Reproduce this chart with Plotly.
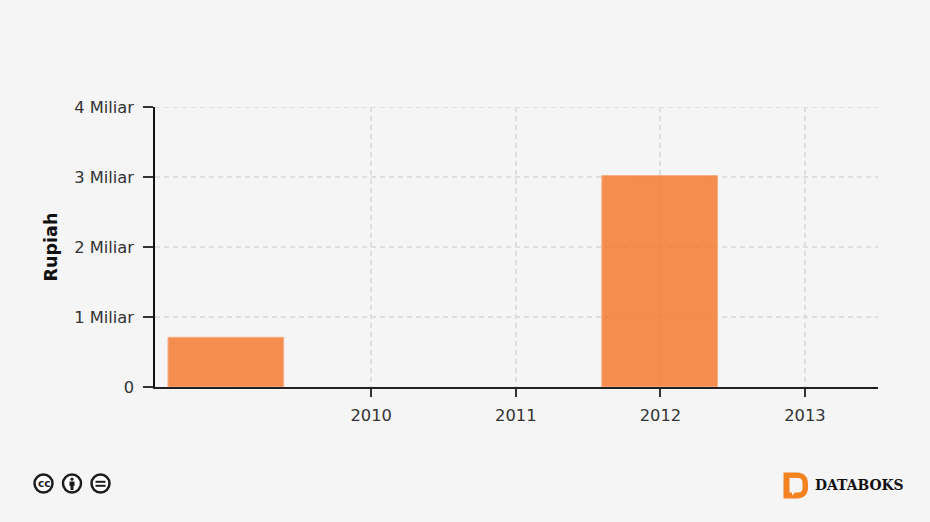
import plotly.graph_objects as go

years = [2009, 2010, 2011, 2012, 2013]
values = [0.71e9, 0, 0, 3.02e9, 0]
x_ticks = [2010, 2011, 2012, 2013]
y_ticks = [0, 1e9, 2e9, 3e9, 4e9]
y_labels = ["0", "1 Miliar", "2 Miliar", "3 Miliar", "4 Miliar"]

W, H = 930, 522
BG = "#f5f5f5"
INK = "#1c1c1c"
FONT = "DejaVu Sans"
GRID = "#dedede"
DASH = "5px,4px"
L, R, T, B = 155, 878, 107, 387


def px(x):
    return (x - L) / (R - L)


def py(y):
    return (B - y) / (B - T)


fig = go.Figure(
    go.Bar(
        x=years,
        y=values,
        width=0.8,
        offset=-0.405,
        marker=dict(color="#f57b33", opacity=0.85,
                    line=dict(color="#f8a473", width=[1 if v else 0 for v in values])),
    )
)

# grid lines that sit on the ends of the value axis
shapes = [
    dict(type="line", xref="paper", yref="y", x0=0, x1=1, y0=y_ticks[-1], y1=y_ticks[-1],
         layer="below", line=dict(color=GRID, width=2, dash=DASH)),
    dict(type="line", xref="paper", yref="y", x0=0, x1=1, y0=y_ticks[0], y1=y_ticks[0],
         layer="above", line=dict(color="rgba(222,222,222,0.2)", width=1.5, dash=DASH)),
]
annotations = []

# licence icons
for cx in (43.5, 72, 100.5):
    shapes.append(dict(type="circle", xref="paper", yref="paper",
                       x0=px(cx - 9), x1=px(cx + 9), y0=py(483.5 + 9), y1=py(483.5 - 9),
                       line=dict(color=INK, width=2.5), fillcolor="#ffffff"))
annotations.append(dict(text="<b>cc</b>", x=px(43.5), y=py(483), xref="paper", yref="paper",
                        xanchor="center", yanchor="middle",
                        showarrow=False, font=dict(family=FONT, size=10.5, color=INK)))
shapes.append(dict(type="circle", xref="paper", yref="paper",
                   x0=px(70.4), x1=px(73.6), y0=py(480.8), y1=py(477.6),
                   line=dict(width=0), fillcolor=INK))
shapes.append(dict(type="path", xref="paper", yref="paper", line=dict(width=0), fillcolor=INK,
                   path=f"M {px(69.5)} {py(481.5)} L {px(74.5)} {py(481.5)} L {px(74.5)} {py(486)} "
                        f"L {px(73.5)} {py(486)} L {px(73.5)} {py(490)} L {px(70.5)} {py(490)} "
                        f"L {px(70.5)} {py(486)} L {px(69.5)} {py(486)} Z"))
for yy in (480.8, 484.8):
    shapes.append(dict(type="rect", xref="paper", yref="paper", line=dict(width=0), fillcolor=INK,
                       x0=px(95.5), x1=px(105.5), y0=py(yy + 2), y1=py(yy)))

# brand mark
shapes.append(dict(type="path", xref="paper", yref="paper", line=dict(width=0), fillcolor="#f58220",
                   path=f"M {px(783.5)} {py(472.5)} L {px(797)} {py(472.5)} "
                        f"Q {px(808)} {py(473)} {px(808)} {py(484)} "
                        f"L {px(808)} {py(487)} Q {px(808)} {py(498)} {px(797)} {py(498.5)} "
                        f"L {px(783.5)} {py(498.5)} Z"))
shapes.append(dict(type="path", xref="paper", yref="paper", line=dict(width=0), fillcolor=BG,
                   path=f"M {px(789.5)} {py(478)} L {px(798)} {py(478)} "
                        f"Q {px(802.5)} {py(478)} {px(802.5)} {py(483)} "
                        f"L {px(802.5)} {py(488)} Q {px(802.5)} {py(492.5)} {px(798)} {py(492.5)} "
                        f"L {px(795)} {py(492.5)} L {px(792)} {py(495.5)} L {px(792)} {py(492.5)} "
                        f"L {px(789.5)} {py(492.5)} Z"))
annotations.append(dict(text="<b>DATABOKS</b>", x=px(813), y=py(485), xref="paper", yref="paper",
                        xanchor="left", yanchor="middle", showarrow=False,
                        font=dict(family="DejaVu Serif", size=13.9, color="#111111")))

fig.update_layout(
    width=W, height=H,
    autosize=False,
    paper_bgcolor=BG,
    plot_bgcolor=BG,
    margin=dict(l=L, r=W - R, t=T, b=H - B, pad=0),
    font=dict(family=FONT, size=16.3, color="#333333"),
    showlegend=False,
    shapes=shapes,
    annotations=annotations,
    xaxis=dict(
        range=[2008.505, 2013.505], tickvals=x_ticks, ticktext=[str(v) for v in x_ticks],
        showgrid=True, gridcolor=GRID, griddash=DASH, gridwidth=2,
        showline=True, linecolor="#222222", linewidth=1.5,
        ticks="outside", ticklen=8, tickwidth=1.5, tickcolor="#333333",
        ticklabelstandoff=5,
        zeroline=False, automargin=False,
    ),
    yaxis=dict(
        range=[0, 4e9], tickvals=y_ticks, ticktext=y_labels,
        showgrid=True, gridcolor=GRID, griddash=DASH, gridwidth=2,
        showline=True, linecolor="#111111", linewidth=1.5,
        ticks="outside", ticklen=10, tickwidth=1.5, tickcolor="#333333",
        ticklabelstandoff=6,
        zeroline=False, automargin=False,
        title=dict(text="<b>Rupiah</b>", standoff=12,
                   font=dict(family=FONT, size=17.5, color="#111111")),
    ),
)

fig.write_html("out.html", config={"displayModeBar": False},
               post_script="document.body.style.margin='0';document.body.style.background='#f5f5f5';")
